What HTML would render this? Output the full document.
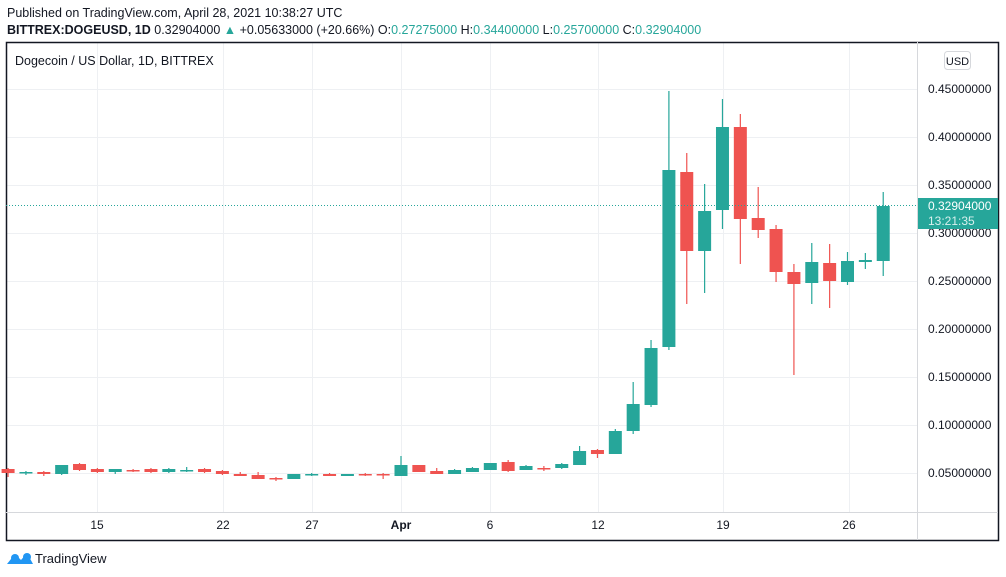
<!DOCTYPE html>
<html><head><meta charset="utf-8"><style>
body{margin:0;background:#fff;width:1006px;height:577px;overflow:hidden;font-family:"Liberation Sans",sans-serif;}
svg{position:absolute;left:0;top:0}
</style></head><body>
<svg id="s" width="1006" height="577" xmlns="http://www.w3.org/2000/svg" font-family="Liberation Sans, sans-serif">
<text x="7" y="17" font-size="12.5" fill="#131722">Published on TradingView.com, April 28, 2021 10:38:27 UTC</text>
<text x="7" y="34" font-size="12.5" fill="#131722"><tspan font-weight="bold">BITTREX:DOGEUSD, 1D</tspan> 0.32904000 <tspan fill="#26a69a">▲</tspan> +0.05633000 (+20.66%) O:<tspan fill="#26a69a">0.27275000</tspan> H:<tspan fill="#26a69a">0.34400000</tspan> L:<tspan fill="#26a69a">0.25700000</tspan> C:<tspan fill="#26a69a">0.32904000</tspan></text>
<g id="grid" stroke="#eef0f3" stroke-width="1"></g>
<rect x="6.5" y="42.5" width="992" height="498" fill="none" stroke="#131722" stroke-width="1.5"/>
<line x1="917.5" y1="42" x2="917.5" y2="540" stroke="#d6d8dc"/>
<line x1="6" y1="512.5" x2="998" y2="512.5" stroke="#d6d8dc"/>
<text x="15" y="65" font-size="12.5" fill="#131722">Dogecoin / US Dollar, 1D, BITTREX</text>
<rect x="944.5" y="51.5" width="26" height="18" rx="3" fill="#fff" stroke="#d6d8dc"/>
<text x="957.5" y="65" font-size="11" fill="#131722" text-anchor="middle">USD</text>
<g id="c"></g>
<line x1="6" y1="205.5" x2="917" y2="205.5" stroke="#26a69a" stroke-dasharray="1,2"/>
<g id="lab" font-size="12" fill="#131722"></g>
<rect x="918" y="198" width="80" height="31" fill="#26a69a"/>
<text x="928" y="210" font-size="12" fill="#fff">0.32904000</text>
<text x="928" y="225" font-size="12" fill="#d8f0ed">13:21:35</text>
<g font-size="12" fill="#131722" text-anchor="middle" id="tl"></g>
<g transform="translate(7,550)"><path d="M0 14 L8 4 L14 10 L20 3 L26 14 Z" fill="#2196f3"/><circle cx="8" cy="8" r="4" fill="#2196f3"/><circle cx="20" cy="7" r="4" fill="#2196f3"/></g>
<text x="35" y="563" font-size="13" fill="#131722">TradingView</text>
</svg>
<script>
var NS="http://www.w3.org/2000/svg";
function el(p,t,a,txt){var e=document.createElementNS(NS,t);for(var k in a)e.setAttribute(k,a[k]);if(txt)e.textContent=txt;document.getElementById(p).appendChild(e);}
var xs=[97,223,312,401,490,598,723,849];
xs.forEach(function(x){el("grid","line",{x1:x+.5,y1:43,x2:x+.5,y2:512});});
for(var i=0;i<9;i++){var y=89+i*48;el("grid","line",{x1:7,y1:y+.5,x2:917,y2:y+.5});
 el("lab","text",{x:928,y:y+4},(0.45-i*0.05).toFixed(8));}
var lbl=["15","22","27","Apr","6","12","19","26"];
xs.forEach(function(x,i){el("tl","text",{x:x,y:529,"font-weight":lbl[i]=="Apr"?"bold":"normal"},lbl[i]);});
// [green?, bodyTop, bodyBot, wickTop, wickBot]
var d=[
[0,469,473,468,477],[1,472,473.5,471,475],[0,472,474,471,476],[1,465,474,465,475],[0,464,470,463,471],
[0,469,472,468,473],[1,469,472,469,474],[0,470,471.5,469,472],[0,469,472,468,473],[1,469,472,468,473],
[1,470,471.5,467,472],[0,469,472,468,473],[0,471,474,470,475],[0,474,476,472,476],[0,475,479,472,479],
[0,478,479.5,477,481],[1,474,479,474,479],[1,474,475.5,473,476],[0,474,476,473,476],[1,474,476,474,476],
[0,474,475.5,473,476],[0,474,475.5,473,479],[1,465,476,456,476],[0,465,472,465,472],[0,471,474,468,474],
[1,470,474,469,474],[1,468,472,467,472],[1,463,470,463,470],[0,462,471,460,472],[1,466,470,465,470],
[0,468,469.5,466,471],[1,464,468,463,469],[1,451,465,446,465],[0,450,454,449,458],[1,431,454,429,454],
[1,404,431,382,434],[1,348,405,340,407],[1,170,347,91,350],[0,172,251,153,304],[1,211,251,184,293],
[1,127,210,99,229],[0,127,219,114,264],[0,218,230,187,238],[0,229,272,225,282],[0,272,284,264,375],
[1,262,283,243,304],[0,263,281,244,308],[1,261,282,252,285],[1,260,262,253,269],[1,206,261,192,276]];
d.forEach(function(c,i){var x=401+(i-22)*17.86;var col=c[0]?"#26a69a":"#ef5350";
 el("c","line",{x1:x,y1:c[3],x2:x,y2:c[4],stroke:col,"stroke-width":1.2});
 var h=Math.max(c[2]-c[1],1.5);
 el("c","rect",{x:x-6.5,y:c[1],width:13,height:h,fill:col});});
</script>
</body></html>
